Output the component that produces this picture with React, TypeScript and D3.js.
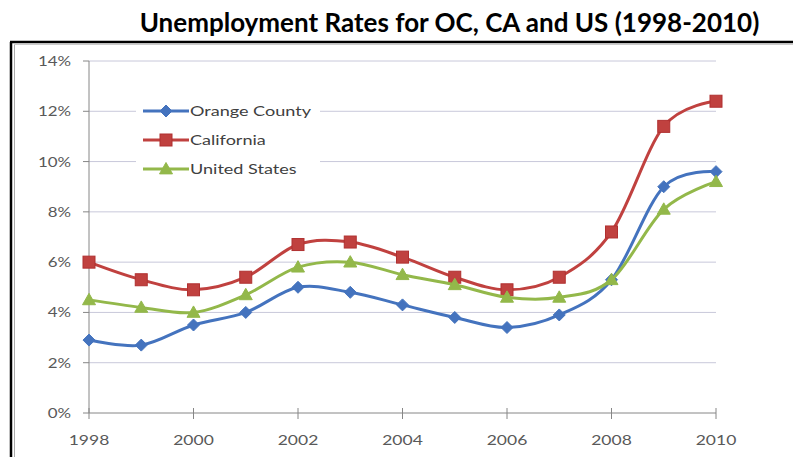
import React from "react";
import * as d3 from "d3";

const years = [1998, 1999, 2000, 2001, 2002, 2003, 2004, 2005, 2006, 2007, 2008, 2009, 2010];
const orangeCounty = [2.9, 2.7, 3.5, 4.0, 5.0, 4.8, 4.3, 3.8, 3.4, 3.9, 5.3, 9.0, 9.6];
const california = [6.0, 5.3, 4.9, 5.4, 6.7, 6.8, 6.2, 5.4, 4.9, 5.4, 7.2, 11.4, 12.4];
const unitedStates = [4.5, 4.2, 4.0, 4.7, 5.8, 6.0, 5.5, 5.1, 4.6, 4.6, 5.3, 8.1, 9.2];
const yTicks = [0, 2, 4, 6, 8, 10, 12, 14];
const xTicks = [1998, 2000, 2002, 2004, 2006, 2008, 2010];
const seriesNames = ["Orange County", "California", "United States"];
const seriesColors = ["#4473BE", "#C0413F", "#93B84A"];
const title = "Unemployment Rates for OC, CA and US (1998-2010)";

const W = 793;
const H = 457;
const FONT = "Lato, 'Open Sans', sans-serif";
const SX = 1.25;

function Marker({ kind, x, y, color }: { kind: number; x: number; y: number; color: string }) {
  if (kind === 0) {
    const r = 6;
    return <path d={`M${x},${y - r}L${x + r},${y}L${x},${y + r}L${x - r},${y}Z`} fill={color} stroke={color} strokeWidth={1} />;
  }
  if (kind === 1) {
    const s = 12;
    return <rect x={x - s / 2} y={y - s / 2} width={s} height={s} fill={color} stroke="#B03030" strokeWidth={1} />;
  }
  const r = 6.5;
  return <path d={`M${x},${y - r}L${x + r},${y + r * 0.75}L${x - r},${y + r * 0.75}Z`} fill={color} stroke={color} strokeWidth={1} />;
}

export default function App() {
  const x = d3.scaleLinear().domain([1998, 2010]).range([89, 716]);
  const y = d3.scaleLinear().domain([0, 14]).range([413, 61]);
  const series = [orangeCounty, california, unitedStates];
  const line = d3
    .line<number>()
    .x((_, i) => x(years[i]))
    .y((d) => y(d))
    .curve(d3.curveCardinal.tension(0));

  const legendRows = [111, 140, 169];

  return (
    <svg width={W} height={H} style={{ position: "absolute", left: 0, top: 0, background: "#fff" }}>
      <text x={449.5} y={32} textAnchor="middle" fontFamily={FONT} fontWeight={700} fontSize={26} fill="#000">
        {title}
      </text>
      {/* frame */}
      <line x1={10} y1={42} x2={W} y2={42} stroke="#000" strokeWidth={2.5} />
      <line x1={11} y1={42} x2={11} y2={H} stroke="#000" strokeWidth={2.5} />
      <line x1={14.5} y1={45} x2={14.5} y2={H} stroke="#aaa" strokeWidth={1} />
      <line x1={14} y1={44.5} x2={W} y2={44.5} stroke="#ccc" strokeWidth={1} />

      {/* gridlines */}
      {yTicks.filter((t) => t > 0).map((t) => (
        <line key={t} x1={89} x2={716} y1={y(t)} y2={y(t)} stroke="#C8C8DA" strokeWidth={1} />
      ))}
      {/* axes */}
      <line x1={89} x2={89} y1={y(14)} y2={y(0)} stroke="#868686" strokeWidth={1} />
      <line x1={89} x2={716} y1={y(0)} y2={y(0)} stroke="#868686" strokeWidth={1} />
      {yTicks.map((t) => (
        <g key={t}>
          <line x1={83} x2={89} y1={y(t)} y2={y(t)} stroke="#868686" />
          <text
            transform={`translate(71,${y(t) + 5}) scale(${SX},1)`}
            textAnchor="end"
            fontFamily={FONT}
            fontSize={13.5}
            fill="#595959"
          >
            {t}%
          </text>
        </g>
      ))}
      {xTicks.map((t) => (
        <g key={t}>
          <line x1={x(t)} x2={x(t)} y1={y(0) - 5} y2={y(0) + 6} stroke="#868686" />
          <text
            transform={`translate(${x(t)},445) scale(${SX},1)`}
            textAnchor="middle"
            fontFamily={FONT}
            fontSize={14}
            fill="#595959"
          >
            {t}
          </text>
        </g>
      ))}

      {/* legend background */}
      <rect x={136} y={98} width={184} height={84} fill="#fff" />

      {/* series */}
      {series.map((s, k) => (
        <g key={k}>
          <path d={line(s) || ""} fill="none" stroke={seriesColors[k]} strokeWidth={3} />
          {s.map((v, i) => (
            <Marker key={i} kind={k} x={x(years[i])} y={y(v)} color={seriesColors[k]} />
          ))}
        </g>
      ))}

      {/* legend */}
      {seriesNames.map((n, k) => (
        <g key={n}>
          <line x1={143} x2={189} y1={legendRows[k]} y2={legendRows[k]} stroke={seriesColors[k]} strokeWidth={3} />
          <Marker kind={k} x={166} y={legendRows[k]} color={seriesColors[k]} />
          <text
            transform={`translate(190,${legendRows[k] + 5}) scale(1.29,1)`}
            fontFamily={FONT}
            fontSize={14}
            fill="#404040"
          >
            {n}
          </text>
        </g>
      ))}
    </svg>
  );
}
